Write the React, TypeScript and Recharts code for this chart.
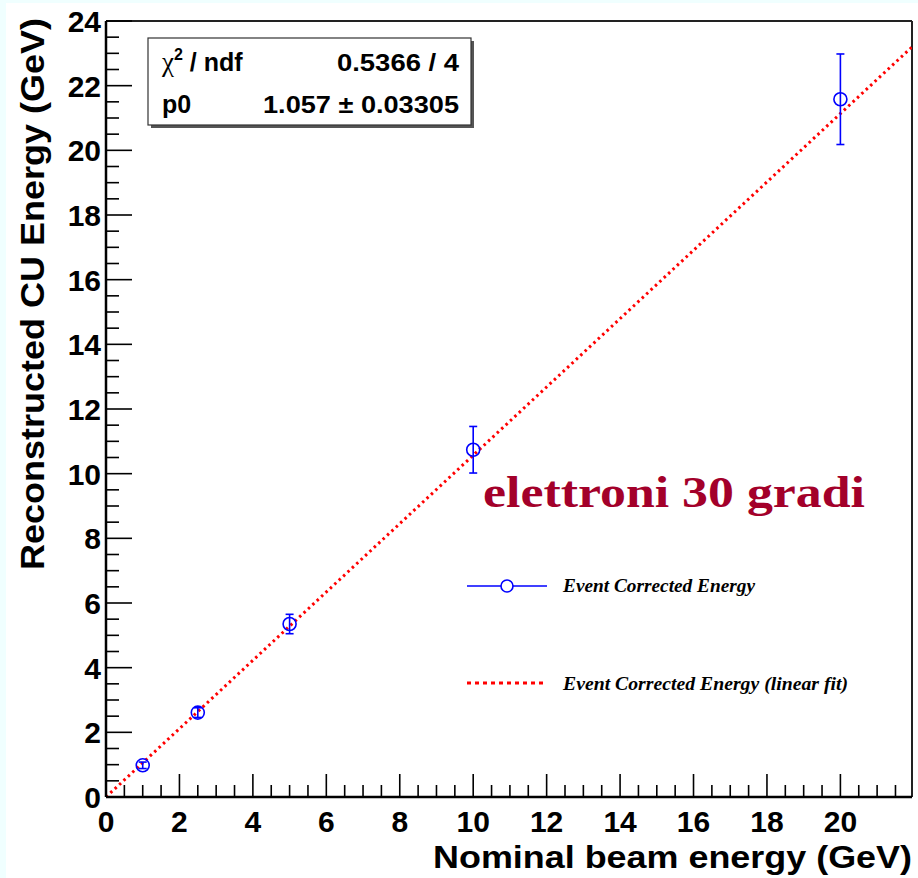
import React from 'react';
import { ComposedChart, Line, Scatter, XAxis, YAxis, ErrorBar, ReferenceLine } from 'recharts';

// ---- data ----
const seriesName = 'Event Corrected Energy';
const fitName = 'Event Corrected Energy (linear fit)';
const beamEnergy = [1, 2.5, 5, 10, 20];
const recoEnergy = [0.98, 2.61, 5.35, 10.74, 21.58];
const recoError = [0.1, 0.15, 0.3, 0.72, 1.4];
const fitX = [0, 22];
const fitY = [0, 23.25];
const xMajorTicks = [0, 2, 4, 6, 8, 10, 12, 14, 16, 18, 20];
const yMajorTicks = [0, 2, 4, 6, 8, 10, 12, 14, 16, 18, 20, 22, 24];
const xMax = 21.95;
const yMax = 24;
const statsRows = [
  { label: 'chi2', value: '0.5366 / 4' },
  { label: 'p0', value: '1.057 \u00b1 0.03305' },
];
const annotation = 'elettroni 30 gradi';
const xTitle = 'Nominal beam energy (GeV)';
const yTitle = 'Reconstructed CU Energy (GeV)';

const points = beamEnergy.map((x, i) => ({ x, y: recoEnergy[i], err: recoError[i] }));
const fitData = fitX.map((x, i) => ({ x, y: fitY[i] }));

const minorStep = 0.5;
const buildTicks = (max: number) => {
  const t: number[] = [];
  for (let v = 0; v <= max + 1e-9; v += minorStep) t.push(Math.round(v * 10) / 10);
  return t;
};
const xTicks = buildTicks(xMax);
const yTicks = buildTicks(yMax);

const SANS = '"Liberation Sans", Arial, Helvetica, sans-serif';
const SERIF = '"Liberation Serif", "Times New Roman", serif';

const XTick = (props: any) => {
  const { x, y, payload } = props;
  const v = payload.value;
  const major = xMajorTicks.includes(v);
  return (
    <g>
      <line x1={x} x2={x} y1={y} y2={y - (major ? 23 : 12)} stroke="#000" strokeWidth={1.6} />
      {major && (
        <text x={x} y={y + 35} textAnchor="middle" fontFamily={SANS} fontWeight="bold" fontSize={30} fill="#000">
          {v}
        </text>
      )}
    </g>
  );
};

const YTick = (props: any) => {
  const { x, y, payload } = props;
  const v = payload.value;
  const major = yMajorTicks.includes(v);
  return (
    <g>
      <line x1={x} x2={x + (major ? 26 : 13)} y1={y} y2={y} stroke="#000" strokeWidth={1.6} />
      {major && (
        <text x={x - 5} y={y + 11} textAnchor="end" fontFamily={SANS} fontWeight="bold" fontSize={30} fill="#000">
          {v}
        </text>
      )}
    </g>
  );
};

const Marker = (props: any) => (
  <circle cx={props.cx} cy={props.cy} r={6.5} fill="none" stroke="#0000ff" strokeWidth={1.6} />
);

export default function App() {
  return (
    <div style={{ position: 'absolute', left: 0, top: 0, width: 918, height: 878, background: '#f0ffff', overflow: 'hidden' }}>
      <div style={{ position: 'absolute', left: 6, top: 3, width: 912, height: 875, background: '#ffffff' }} />
      <div style={{ position: 'absolute', left: 0, top: 0 }}>
        <ComposedChart width={918} height={878} margin={{ top: 21, right: 6, bottom: 0, left: 6 }}>
          <XAxis
            type="number"
            dataKey="x"
            domain={[0, xMax]}
            ticks={xTicks}
            interval={0}
            tickSize={0}
            tickMargin={0}
            height={81}
            tick={<XTick />}
            axisLine={{ stroke: '#000', strokeWidth: 2.5 }}
            tickLine={false}
            allowDataOverflow
          />
          <YAxis
            type="number"
            dataKey="y"
            domain={[0, yMax]}
            ticks={yTicks}
            interval={0}
            tickSize={0}
            tickMargin={0}
            width={100}
            tick={<YTick />}
            axisLine={{ stroke: '#000', strokeWidth: 2.5 }}
            tickLine={false}
            allowDataOverflow
          />
          <ReferenceLine y={yMax} stroke="#222" strokeWidth={2} />
          <ReferenceLine x={xMax} stroke="#222" strokeWidth={2} />
          <Line
            data={fitData}
            dataKey="y"
            name={fitName}
            type="linear"
            stroke="#ff0000"
            strokeWidth={3}
            strokeDasharray="2.5 3.5"
            dot={false}
            activeDot={false}
            isAnimationActive={false}
          />
          <Scatter data={points} dataKey="y" name={seriesName} shape={<Marker />} isAnimationActive={false}>
            <ErrorBar dataKey="err" direction="y" width={4} stroke="#0000ff" strokeWidth={1.6} />
          </Scatter>
        </ComposedChart>
      </div>
      <svg width={918} height={878} style={{ position: 'absolute', left: 0, top: 0, pointerEvents: 'none' }}>
        {/* stats box */}
        <rect x={151} y={41} width={323} height={87} fill="#555" />
        <rect x={148} y={38} width={323} height={87} fill="#fff" stroke="#333" strokeWidth={1.2} />
        <text x={162} y={71} fontFamily={SANS} fontWeight="bold" fontSize={25} fill="#000">
          <tspan fontFamily={SERIF} fontWeight="normal" fontSize={27}>{'\u03c7'}</tspan>
          <tspan fontSize={16} dy={-11}>2</tspan>
          <tspan dy={11}>{' / ndf'}</tspan>
        </text>
        <text x={459} y={71} textAnchor="end" fontFamily={SANS} fontWeight="bold" fontSize={24} fill="#000" textLength={122} lengthAdjust="spacingAndGlyphs">
          {statsRows[0].value}
        </text>
        <text x={162} y={113} fontFamily={SANS} fontWeight="bold" fontSize={25} fill="#000">
          {statsRows[1].label}
        </text>
        <text x={459} y={113} textAnchor="end" fontFamily={SANS} fontWeight="bold" fontSize={24} fill="#000" textLength={196} lengthAdjust="spacingAndGlyphs">
          {statsRows[1].value}
        </text>

        {/* annotation */}
        <text x={483} y={507} fontFamily={SERIF} fontWeight="bold" fontSize={44} fill="#a3002a" textLength={382} lengthAdjust="spacingAndGlyphs">
          {annotation}
        </text>

        {/* legend */}
        <line x1={467} x2={547} y1={586} y2={586} stroke="#0000ff" strokeWidth={1.6} />
        <circle cx={507} cy={586} r={6} fill="#fff" stroke="#0000ff" strokeWidth={1.6} />
        <text x={563} y={592} fontFamily={SERIF} fontWeight="bold" fontStyle="italic" fontSize={19} fill="#000" textLength={192} lengthAdjust="spacingAndGlyphs">
          {seriesName}
        </text>
        <line x1={467} x2={547} y1={683} y2={683} stroke="#ff0000" strokeWidth={3} strokeDasharray="4 4" />
        <text x={563} y={690} fontFamily={SERIF} fontWeight="bold" fontStyle="italic" fontSize={19} fill="#000" textLength={285} lengthAdjust="spacingAndGlyphs">
          {fitName}
        </text>

        {/* axis titles */}
        <text x={912} y={868} textAnchor="end" fontFamily={SANS} fontWeight="bold" fontSize={32} fill="#000" textLength={479} lengthAdjust="spacingAndGlyphs">
          {xTitle}
        </text>
        <text transform="translate(44,18) rotate(-90)" textAnchor="end" fontFamily={SANS} fontWeight="bold" fontSize={34} fill="#000" textLength={552} lengthAdjust="spacingAndGlyphs">
          {yTitle}
        </text>
      </svg>
    </div>
  );
}
